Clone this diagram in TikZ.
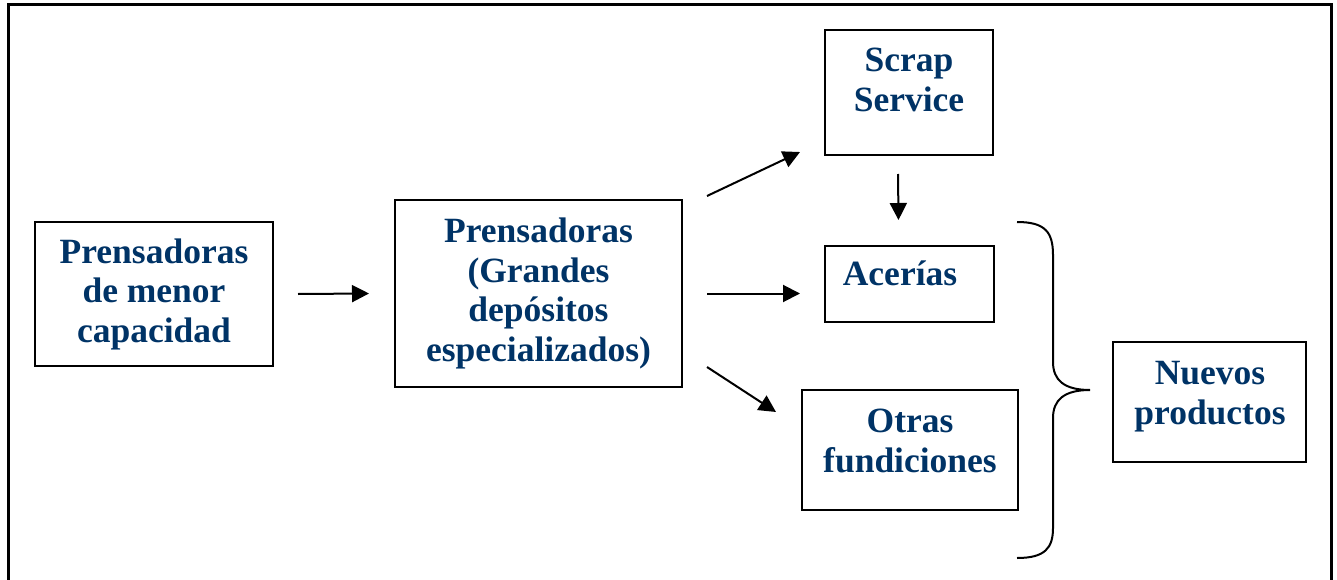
\documentclass[tikz,border=0pt]{standalone}
\usepackage{fontspec}
\setmainfont{Liberation Serif}
\usepackage{tikz}
\usetikzlibrary{arrows.meta}
\definecolor{navyText}{RGB}{0,51,102}

\begin{document}
\begin{tikzpicture}[x=1pt,y=-1pt]
\tikzstyle{every path}=[line width=2pt];
\tikzstyle{box}=[draw, rectangle, inner sep=0pt];
\tikzstyle{lbl}=[inner sep=0pt, align=center, text=navyText, font=\bfseries\fontsize{35.5}{39.5}\selectfont];
\tikzstyle{flow}=[-{Triangle[length=17pt,width=17pt]}];
\useasboundingbox (0,0) rectangle (1337,580);
% outer frame, open at the bottom
\draw[line width=3pt] (8,580) -- (8,5) -- (1331,5) -- (1331,580);
\path (154,294) node (menor)[box, lbl, minimum width=238pt, minimum height=144pt] {Prensadoras\\de menor\\capacidad}
(538.5,293.5) node (grande)[box, lbl, minimum width=287pt, minimum height=187pt] {Prensadoras\\(Grandes\\depósitos\\especializados)}
(909,92.5) node (scrap)[box, minimum width=168pt, minimum height=125pt] {}
(909,80) node (scrapTxt)[lbl] {Scrap\\Service}
(909.5,284) node (acerias)[box, minimum width=169pt, minimum height=76pt] {}
(900,273) node (aceriasTxt)[lbl] {Acerías}
(910,450) node (otras)[box, minimum width=216pt, minimum height=120pt] {}
(910,441) node (otrasTxt)[lbl] {Otras\\fundiciones}
(1209.5,402) node (nuevos)[box, minimum width=193pt, minimum height=120pt] {}
(1210,396.5) node (nuevosTxt)[lbl] {Nuevos\\productos};
\draw[flow] ([xshift=24pt]menor.east) -- ([xshift=-25pt]grande.west);
\draw[flow] ([xshift=24pt,yshift=3pt]grande.north east) -- ([xshift=-24pt,yshift=4pt]scrap.south west);
\draw[flow] ([xshift=24pt]grande.east) -- ([xshift=-24pt]acerias.west |- grande.east);
\draw[flow] ([xshift=24pt,yshift=21pt]grande.south east) -- ([xshift=-25pt,yshift=-23pt]otras.north west);
\draw[flow] ([xshift=-11pt,yshift=-18pt]scrap.south) -- ([xshift=-11pt,yshift=25pt]acerias.north);
% brace
\draw (1017,222) .. controls (1045,222) and (1053,232) .. (1053,255) -- (1053,362)
 .. controls (1053,380) and (1064,390) .. (1090,390)
 .. controls (1064,390) and (1053,400) .. (1053,418) -- (1053,528)
 .. controls (1053,548) and (1045,558) .. (1017,558);
\end{tikzpicture}
\end{document}
